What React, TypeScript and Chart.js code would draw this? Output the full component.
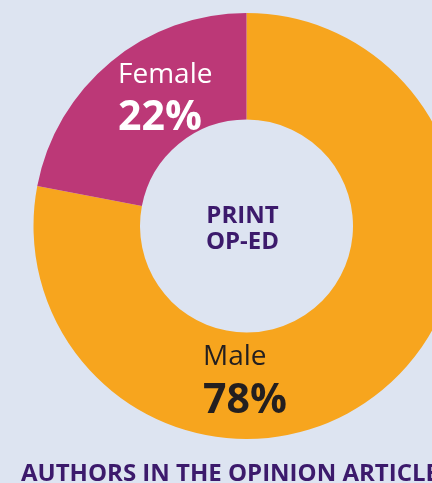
import React, { useEffect, useRef } from "react";
import { Chart, registerables } from "chart.js";

Chart.register(...registerables);

const categories = ["Male", "Female"];
const values = [78, 22];
const colors = ["#f7a51e", "#bc3877"];
const centerLines = ["PRINT", "OP-ED"];
const footerTitle = "AUTHORS IN THE OPINION ARTICLE";

const BG = "#dde4f1";
const PURPLE = "#3c1a6c";
const DARK = "#231f20";
const FONT = "'Open Sans', 'DejaVu Sans', sans-serif";

export default function App() {
  const ref = useRef<HTMLCanvasElement | null>(null);

  useEffect(() => {
    const canvas = ref.current;
    if (!canvas) return;
    const textPlugin = {
      id: "textPlugin",
      afterDraw(chart: any) {
        const ctx = chart.ctx;
        const meta = chart.getDatasetMeta(0);
        const arc = meta.data[0];
        const cx = arc.x;
        const cy = arc.y;
        ctx.save();
        ctx.textBaseline = "alphabetic";
        // center text
        ctx.fillStyle = PURPLE;
        ctx.textAlign = "center";
        ctx.font = `bold 24px ${FONT}`;
        ctx.fillText(centerLines[0], cx - 4, cy - 3);
        ctx.fillText(centerLines[1], cx - 4, cy + 23);
        // Female label
        ctx.textAlign = "left";
        ctx.fillStyle = "#ffffff";
        ctx.font = `28px ${FONT}`;
        ctx.fillText(categories[1], cx - 128.5, cy - 143);
        ctx.font = `bold 41px ${FONT}`;
        ctx.fillText(values[1] + "%", cx - 128.5, cy - 96);
        // Male label
        ctx.fillStyle = DARK;
        ctx.font = `28px ${FONT}`;
        ctx.fillText(categories[0], cx - 43.5, cy + 139);
        ctx.font = `bold 41px ${FONT}`;
        ctx.fillText(values[0] + "%", cx - 43.5, cy + 187);
        // Footer title
        ctx.fillStyle = PURPLE;
        ctx.font = `bold 24px ${FONT}`;
        ctx.fillText(footerTitle, 21, 481);
        ctx.restore();
      },
    };
    const chart = new Chart(canvas, {
      type: "doughnut",
      data: {
        labels: categories,
        datasets: [
          {
            data: values,
            backgroundColor: colors,
            borderWidth: 0,
          },
        ],
      },
      options: {
        responsive: false,
        animation: false,
        cutout: "50%",
        rotation: 0,
        layout: { padding: { top: 13, bottom: 44, left: 33.5, right: 33.5 } },
        plugins: {
          legend: { display: false },
          tooltip: { enabled: false },
          title: { display: false },
        },
      },
      plugins: [textPlugin],
    });
    return () => chart.destroy();
  }, []);

  return (
    <div
      style={{
        position: "fixed",
        left: 0,
        top: 0,
        width: 432,
        height: 483,
        overflow: "hidden",
        background: BG,
      }}
    >
      <canvas
        ref={ref}
        width={493}
        height={483}
        style={{ display: "block", width: 493, height: 483 }}
      />
    </div>
  );
}
